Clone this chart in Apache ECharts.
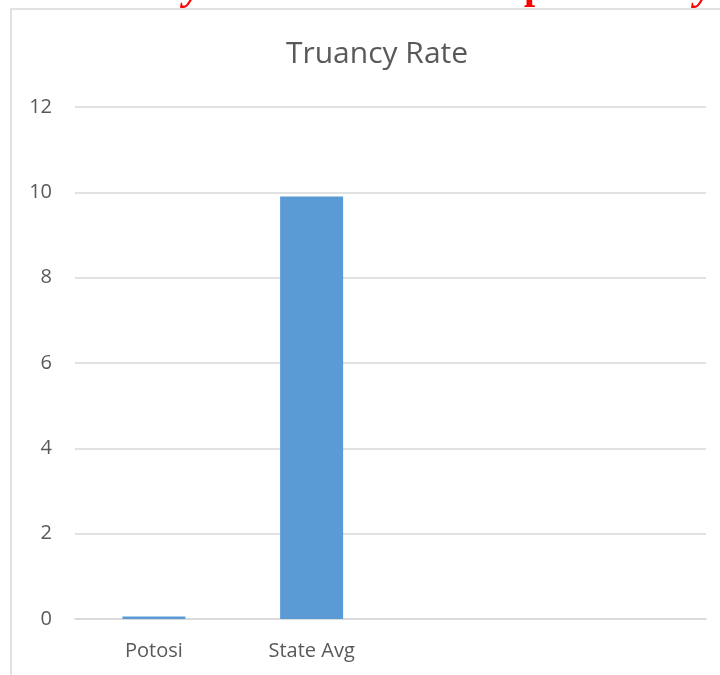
<html lang="en">
<head>
    <meta charset="UTF-8">
    <title>Truancy Rate</title>
    <style>
        html, body { margin: 0; padding: 0; background: #fff; }
        #echart { width: 720px; height: 675px; }
    </style>
</head>
<body>
<div id="echart"></div>
<script src="https://cdn.jsdelivr.net/npm/echarts@6/dist/echarts.min.js"></script>
<script>
    // data
    const categories = ['Potosi', 'State Avg', '', '']
    const truancy = [0.06, 9.9, null, null]
    const yTicks = [0, 2, 4, 6, 8, 10, 12]

    const echart = echarts.init(document.getElementById('echart'))

    echart.setOption({
        animation: false,
        title: {
            text: 'Truancy Rate',
            left: 372,
            textAlign: 'center',
            top: 34,
            textStyle: {
                fontFamily: 'Open Sans',
                fontSize: 30,
                fontWeight: 'normal',
                color: '#595959'
            }
        },
        grid: { left: 75, right: 14, top: 107, bottom: 56 },
        xAxis: {
            type: 'category',
            data: categories,
            axisTick: { show: false },
            axisLine: { lineStyle: { color: '#D9D9D9', width: 1.5 } },
            axisLabel: {
                color: '#595959',
                fontFamily: 'Open Sans',
                fontSize: 20,
                margin: 22
            }
        },
        yAxis: {
            type: 'value',
            min: yTicks[0],
            max: yTicks[yTicks.length - 1],
            interval: 2,
            axisLine: { show: false },
            axisTick: { show: false },
            splitLine: { lineStyle: { color: '#D9D9D9', width: 1.5 } },
            axisLabel: {
                color: '#595959',
                fontFamily: 'Open Sans',
                fontSize: 20,
                margin: 23
            }
        },
        series: [{
            type: 'bar',
            name: 'Truancy Rate',
            data: truancy,
            barWidth: 63,
            itemStyle: { color: '#5B9BD5' }
        }],
        graphic: [
            // chart frame, only top and left edges fall inside the window
            {
                type: 'rect',
                silent: true,
                shape: { x: 11, y: 9, width: 740, height: 700 },
                style: { fill: null, stroke: '#D9D9D9', lineWidth: 1.5 }
            },
            // bits of a red heading cut off above the frame
            {
                type: 'text', x: 184, y: 9,
                style: { text: 'y', fill: '#FF0000', font: 'italic bold 40px "Liberation Serif"', verticalAlign: 'bottom' }
            },
            {
                type: 'text', x: 524, y: 8,
                style: { text: 'p', fill: '#FF0000', font: 'bold 40px "Liberation Serif"', verticalAlign: 'bottom' }
            },
            {
                type: 'text', x: 695, y: 9,
                style: { text: 'y', fill: '#FF0000', font: 'italic bold 40px "Liberation Serif"', verticalAlign: 'bottom' }
            }
        ]
    })
</script>
</body>
</html>
